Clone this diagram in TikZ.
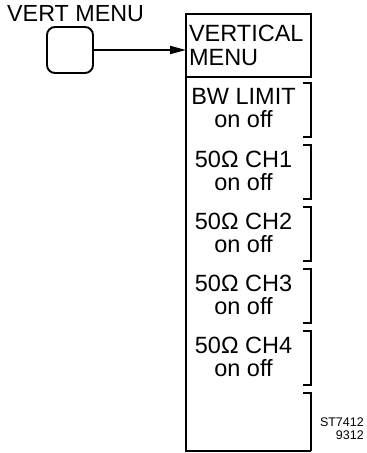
\documentclass[tikz,border=0pt]{standalone}
\usepackage{fontspec}
\setmainfont{Liberation Sans}
\usetikzlibrary{arrows.meta,positioning,calc}

\begin{document}
\begin{tikzpicture}[
    x=1pt, y=-1pt,
    lbl/.style={font=\fontsize{23.3}{24}\selectfont, inner sep=0pt},
    key/.style={rectangle, draw, line width=1.9pt, rounded corners=8pt, minimum size=46pt, outer sep=0pt},
    ttl/.style={rectangle, draw, line width=1.9pt, minimum width=125pt, minimum height=63pt, text width=119pt, align=left, inner xsep=3pt, inner ysep=0pt, outer sep=0pt, font=\fontsize{23.5}{24}\selectfont},
    soft/.style={align=center, inner sep=0pt, font=\fontsize{23.5}{23}\selectfont},
    brk/.style={line width=1.9pt},
    arr/.style={-{Triangle[length=16pt,width=8pt]}, line width=1.9pt}
]
    \useasboundingbox (0,0) rectangle (367,453);
    \node [lbl, anchor=base west] (vlbl) at (7,21) {VERT MENU};
    \node [key] (vbtn) at (70,50) {};
    \node [ttl] (vmenu) at (248.5,45.5) {VERTICAL\\MENU};
    \draw [arr] (vbtn.east) -- (vbtn.east -| vmenu.west);

    % side buttons of the menu
    \draw [brk] (vmenu.south west) -- (186,451) -- (311,451);
    \foreach \i in {0,...,4}
        \draw [brk] (303,{83+62*\i}) -- (311,{83+62*\i}) -- (311,{137+62*\i}) -- (303,{137+62*\i});
    \draw [brk] (303,393) -- (311,393) -- (311,451);
    \foreach \t [count=\i from 0] in {BW LIMIT, 50Ω CH1, 50Ω CH2, 50Ω CH3, 50Ω CH4}
        \node [soft] (sk\i) at (243.5,{108.5+62*\i}) {\t\\on off};

    \node [align=right, inner sep=0pt, anchor=north east, font=\fontsize{12.5}{12.5}\selectfont] (code) at (364,418) {ST7412\\9312};
\end{tikzpicture}
\end{document}
